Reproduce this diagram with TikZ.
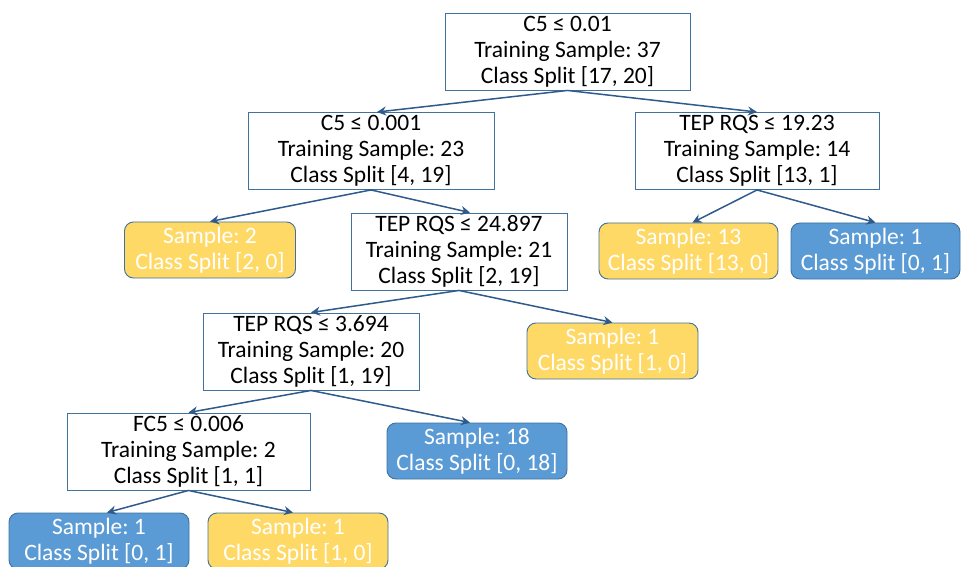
\documentclass[tikz,border=0pt]{standalone}
\usepackage{fontspec}
\setmainfont{Carlito}
\usetikzlibrary{arrows.meta}
\definecolor{boxline}{HTML}{41719C}
\definecolor{arrowc}{HTML}{2E5A8C}
\definecolor{leafy}{HTML}{FFD966}
\definecolor{leafb}{HTML}{5B9BD5}
\tikzset{
  dec/.style={draw=boxline, line width=0.9pt, fill=white, minimum width=#1, minimum height=77pt, align=center, inner sep=0pt, font=\fontsize{23.5}{26}\selectfont\frenchspacing, text=black},
  leafbase/.style={draw=boxline, line width=0.9pt, rounded corners=9pt, minimum width=#1, minimum height=56pt, align=center, inner sep=0pt, font=\fontsize{23.5}{26}\selectfont\frenchspacing, text=white},
  yl/.style={leafbase=#1, fill=leafy},
  bl/.style={leafbase=#1, fill=leafb},
  conn/.style={draw=arrowc, line width=1.5pt, -{Stealth[length=9pt,width=9pt]}}
}
\begin{document}
\frenchspacing
\begin{tikzpicture}[x=1pt,y=-1pt]
\useasboundingbox (0,0) rectangle (962,567);
\node[dec=245pt] (root) at (567.5,51.5) {C5 ≤ 0.01\\Training Sample: 37\\Class Split [17, 20]};
\node[dec=246pt] (l1) at (371,151) {C5 ≤ 0.001\\Training Sample: 23\\Class Split [4, 19]};
\node[dec=244pt] (r1) at (757,151) {TEP RQS ≤ 19.23\\Training Sample: 14\\Class Split [13, 1]};
\node[yl=171pt] (s2) at (210,250) {Sample: 2\\Class Split [2, 0]};
\node[dec=216pt] (t24) at (459,251.5) {TEP RQS ≤ 24.897\\Training Sample: 21\\Class Split [2, 19]};
\node[yl=179pt] (s13) at (688.5,251) {Sample: 13\\Class Split [13, 0]};
\node[bl=169pt] (s1a) at (875.5,251) {Sample: 1\\Class Split [0, 1]};
\node[dec=216pt] (t36) at (311,351.5) {TEP RQS ≤ 3.694\\Training Sample: 20\\Class Split [1, 19]};
\node[yl=171pt] (s1b) at (612.5,351) {Sample: 1\\Class Split [1, 0]};
\node[dec=243pt] (fc5) at (188.5,451.5) {FC5 ≤ 0.006\\Training Sample: 2\\Class Split [1, 1]};
\node[bl=180pt] (s18) at (477,451) {Sample: 18\\Class Split [0, 18]};
\node[bl=180pt] (s1c) at (99,541) {Sample: 1\\Class Split [0, 1]};
\node[yl=180pt] (s1d) at (298,541) {Sample: 1\\Class Split [1, 0]};
\draw[conn] (root.south) -- ([xshift=6pt]l1.north);
\draw[conn] (root.south) -- (r1.north);
\draw[conn] (l1.south) -- (s2.north);
\draw[conn] (l1.south) -- ([xshift=11pt]t24.north);
\draw[conn] (r1.south) -- ([xshift=4pt]s13.north);
\draw[conn] (r1.south) -- (s1a.north);
\draw[conn] (t24.south) -- (t36.north);
\draw[conn] (t24.south) -- (s1b.north);
\draw[conn] (t36.south) -- (fc5.north);
\draw[conn] (t36.south) -- ([xshift=-7pt]s18.north);
\draw[conn] (fc5.south) -- ([xshift=8pt]s1c.north);
\draw[conn] (fc5.south) -- ([xshift=-5pt]s1d.north);
\end{tikzpicture}
\end{document}
